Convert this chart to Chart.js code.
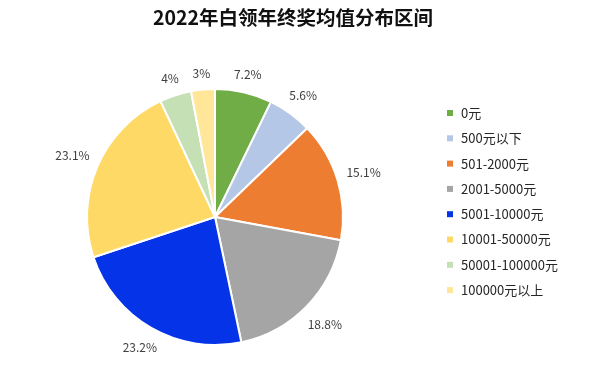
<!DOCTYPE html>
<html>
<head>
<meta charset="utf-8">
<script src="https://cdn.jsdelivr.net/npm/chart.js@4"></script>
<style>
    html, body { margin: 0; padding: 0; background: #fff; }
    #wrap { width: 600px; height: 368px; }
</style>
</head>
<body>
<div id="wrap"><canvas id="pie-chart"></canvas></div>
<script>
const categories = ["0元", "500元以下", "501-2000元", "2001-5000元", "5001-10000元", "10001-50000元", "50001-100000元", "100000元以上"];
const shares = [7.2, 5.6, 15.1, 18.8, 23.2, 23.1, 4, 3];
const sliceColors = ["#70AD47", "#B4C7E7", "#ED7D31", "#A5A5A5", "#0433E8", "#FFD966", "#C5E0B4", "#FFE699"];
const chartTitle = "2022年白领年终奖均值分布区间";

const FONT = "'Noto Sans CJK SC', 'Noto Sans', sans-serif";

// Title, outside labels and legend drawn by hand
const extras = {
    id: "extras",
    afterDatasetsDraw(chart) {
        const ctx = chart.ctx;
        ctx.save();

        // title
        ctx.fillStyle = "#111";
        ctx.font = "bold 19.5px " + FONT;
        ctx.textAlign = "center";
        ctx.textBaseline = "middle";
        ctx.fillText(chartTitle, 293, 18);

        // percentage labels outside the pie
        ctx.font = "12px " + FONT;
        ctx.fillStyle = "#404040";
        const meta = chart.getDatasetMeta(0);
        meta.data.forEach((arc, i) => {
            const mid = (arc.startAngle + arc.endAngle) / 2;
            const text = shares[i] + "%";
            const halfW = ctx.measureText(text).width / 2;
            const dist = arc.outerRadius + 9 + Math.abs(Math.cos(mid)) * halfW + Math.abs(Math.sin(mid)) * 6;
            ctx.fillText(text, arc.x + Math.cos(mid) * dist, arc.y + Math.sin(mid) * dist);
        });

        // legend
        ctx.font = "13px " + FONT;
        ctx.textAlign = "left";
        categories.forEach((name, i) => {
            const y = 113 + i * 25.3;
            ctx.fillStyle = sliceColors[i];
            ctx.fillRect(447, y - 3, 6, 6);
            ctx.fillStyle = "#262626";
            ctx.fillText(name, 461, y);
        });

        ctx.restore();
    }
};

new Chart(document.getElementById("pie-chart").getContext("2d"), {
    type: "pie",
    data: {
        labels: categories,
        datasets: [{
            data: shares,
            backgroundColor: sliceColors,
            borderColor: "#fff",
            borderWidth: 2
        }]
    },
    options: {
        responsive: true,
        maintainAspectRatio: false,
        animation: false,
        layout: { padding: { top: 88, bottom: 22, left: 86, right: 256 } },
        plugins: {
            legend: { display: false },
            tooltip: { enabled: false }
        }
    },
    plugins: [extras]
});
</script>
</body>
</html>
